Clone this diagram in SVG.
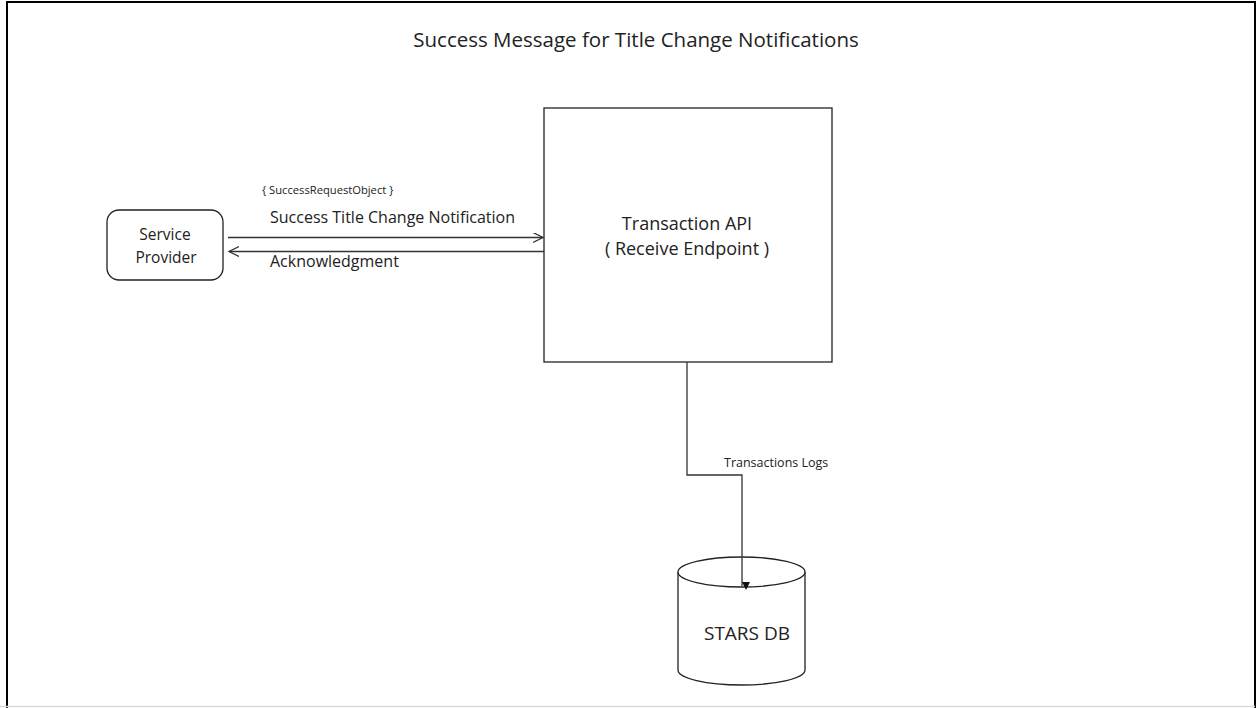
<svg xmlns="http://www.w3.org/2000/svg" width="1257" height="708" viewBox="0 0 1257 708">
<defs>
<style>
text{font-family:"Open Sans","Liberation Sans",sans-serif;fill:#222}
.node{fill:#fff;stroke:#222;stroke-width:1.3}
.conn{fill:none;stroke:#333;stroke-width:1.3}
</style>
<marker id="open" markerWidth="12" markerHeight="12" refX="10" refY="5" orient="auto" markerUnits="userSpaceOnUse">
<path d="M0,0 L10,5 L0,10" fill="none" stroke="#333" stroke-width="1.3"/>
</marker>
<marker id="filled" markerWidth="10" markerHeight="10" refX="4" refY="8" orient="auto-start-reverse" markerUnits="userSpaceOnUse">
<path d="M0,0 L8,0 L4,8 Z" fill="#111" transform="rotate(-90 4 4)"/>
</marker>
</defs>
<rect width="1257" height="708" fill="#fff"/>
<g id="frame">
<path d="M7,708 V2 H1255 V708" fill="none" stroke="#000" stroke-width="2"/>
<line x1="0" y1="706.5" x2="1255" y2="706.5" stroke="#d9d9d9" stroke-width="1.5"/>
</g>
<text x="636" y="47" text-anchor="middle" font-size="20.5">Success Message for Title Change Notifications</text>
<g id="service-provider">
<rect class="node" x="107" y="210" width="116" height="70" rx="12"/>
<text x="165" y="240" text-anchor="middle" font-size="15.5">Service</text>
<text x="166" y="263" text-anchor="middle" font-size="15.5">Provider</text>
</g>
<g id="transaction-api">
<rect class="node" x="544" y="108" width="288" height="254"/>
<text x="687" y="230" text-anchor="middle" font-size="18">Transaction API</text>
<text x="687" y="255" text-anchor="middle" font-size="18">( Receive Endpoint )</text>
</g>
<g id="stars-db">
<path class="node" d="M678,572 V670 A63.5,15 0 0 0 805,670 V572 A63.5,15 0 0 0 678,572 Z"/>
<path class="node" d="M678,572 A63.5,15 0 0 0 805,572" fill="none"/>
<text x="747" y="640" text-anchor="middle" font-size="19">STARS DB</text>
</g>
<g id="connectors">
<line class="conn" x1="228" y1="237.5" x2="543" y2="237.5" marker-end="url(#open)"/>
<line class="conn" x1="544" y1="251.5" x2="229" y2="251.5" marker-end="url(#open)"/>
<path class="conn" d="M687,362 V475 H742 V586" marker-end="url(#filled)"/>
<text x="262" y="194" font-size="11.2">{ SuccessRequestObject }</text>
<text x="270" y="223" font-size="16">Success Title Change Notification</text>
<text x="270" y="267" font-size="16">Acknowledgment</text>
<text x="724" y="467" font-size="12.5">Transactions Logs</text>
</g>
</svg>
